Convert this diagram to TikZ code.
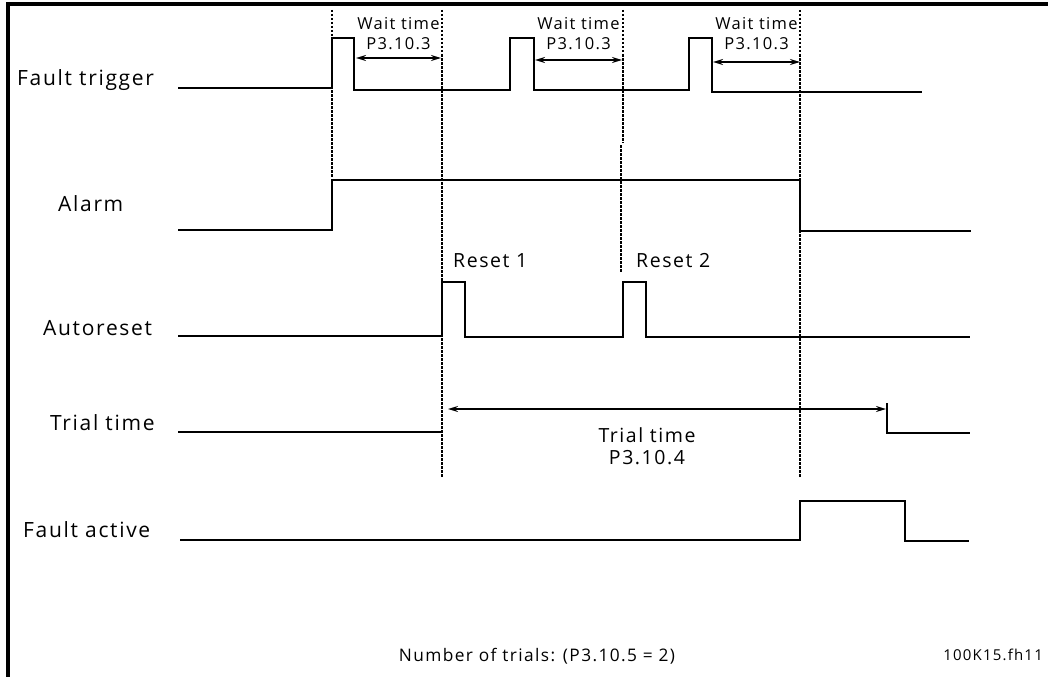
\documentclass[tikz,border=0pt]{standalone}
\usepackage{fontspec}
\setmainfont[LetterSpace=8]{Open Sans}
\usetikzlibrary{arrows.meta,positioning}

\begin{document}
\begin{tikzpicture}[x=1pt, y=-1pt, font=\fontsize{21}{24}\selectfont,
  signal/.style={line width=2pt, line join=miter},
  guide/.style={line width=1.2pt, dash pattern=on 2.5pt off 1.5pt},
  span/.style={line width=1.6pt, {Stealth[length=10pt,width=6pt]}-{Stealth[length=10pt,width=6pt]}},
  signame/.style={anchor=base west, inner sep=0pt},
  note/.style={anchor=base, inner sep=0pt, font=\fontsize{19.5}{22}\selectfont},
  small/.style={anchor=base, inner sep=0pt, font=\fontsize{16.5}{20}\selectfont}]
  \useasboundingbox (0,0) rectangle (1048,677);
  % frame
  \draw[line width=4pt] (6,4) -- (1048,4);
  \draw[line width=4pt] (8,2) -- (8,677);

  % signal names
  \node[signame] (ft) at (17,85.5) {Fault trigger};
  \node[signame] (al) at (58,211.5) {Alarm};
  \node[signame] (ar) at (43,335.5) {Autoreset};
  \node[signame] (tt) at (50,430.5) {Trial time};
  \node[signame] (fa) at (23,537.5) {Fault active};

  % guides
  \draw[guide] (332,10) -- (332,178);
  \draw[guide] (442,10) -- (442,478);
  \draw[guide] (623,10) -- (623,143);
  \draw[guide] (621,145) -- (621,272);
  \draw[guide] (800,10) -- (800,478);

  % waveforms
  \draw[signal] (178,88) -- (332,88) -- (332,38) -- (354,38) -- (354,90) -- (510,90)
    -- (510,38) -- (534,38) -- (534,90) -- (689,90) -- (689,38) -- (712,38) -- (712,92) -- (922,92);
  \draw[signal] (178,230) -- (332,230) -- (332,180) -- (800,180) -- (800,231) -- (971,231);
  \draw[signal] (178,336) -- (442,336) -- (442,282) -- (465,282) -- (465,337) -- (623,337)
    -- (623,282) -- (646,282) -- (646,337) -- (970,337);
  \draw[signal] (178,432) -- (442,432);
  \draw[signal] (887,403) -- (887,433) -- (970,433);
  \draw[signal] (180,540) -- (800,540) -- (800,501) -- (905,501) -- (905,541) -- (969,541);

  % wait times
  \foreach \xa/\xb/\ya [count=\i] in {356/441/58, 535/622/60, 713/800/62} {
    \draw[span] (\xa,\ya) -- (\xb,\ya);
    \node[small] (wait\i) at ({(\xa+\xb)/2},29.5) {Wait time};
    \node[small] (par\i) at ({(\xa+\xb)/2},49.5) {P3.10.3};
  }

  % resets
  \node[note, anchor=base west] (r1) at (453,267) {Reset 1};
  \node[note, anchor=base west] (r2) at (636,267) {Reset 2};

  % trial time
  \coordinate (tl) at (448,409);
  \coordinate (tr) at (886,409);
  \draw[span] (tl) -- (tr);
  \node[note] (trial) at (647,442) {Trial time};
  \node[note] (tpar) at (647,464) {P3.10.4};

  \node[note, font=\fontsize{17.3}{20}\selectfont] (trials) at (537,661) {Number of trials: (P3.10.5 = 2)};
  \node[small, anchor=base east, font=\fontsize{15}{18}\selectfont] (ref) at (1043,660.5) {100K15.fh11};
\end{tikzpicture}
\end{document}
